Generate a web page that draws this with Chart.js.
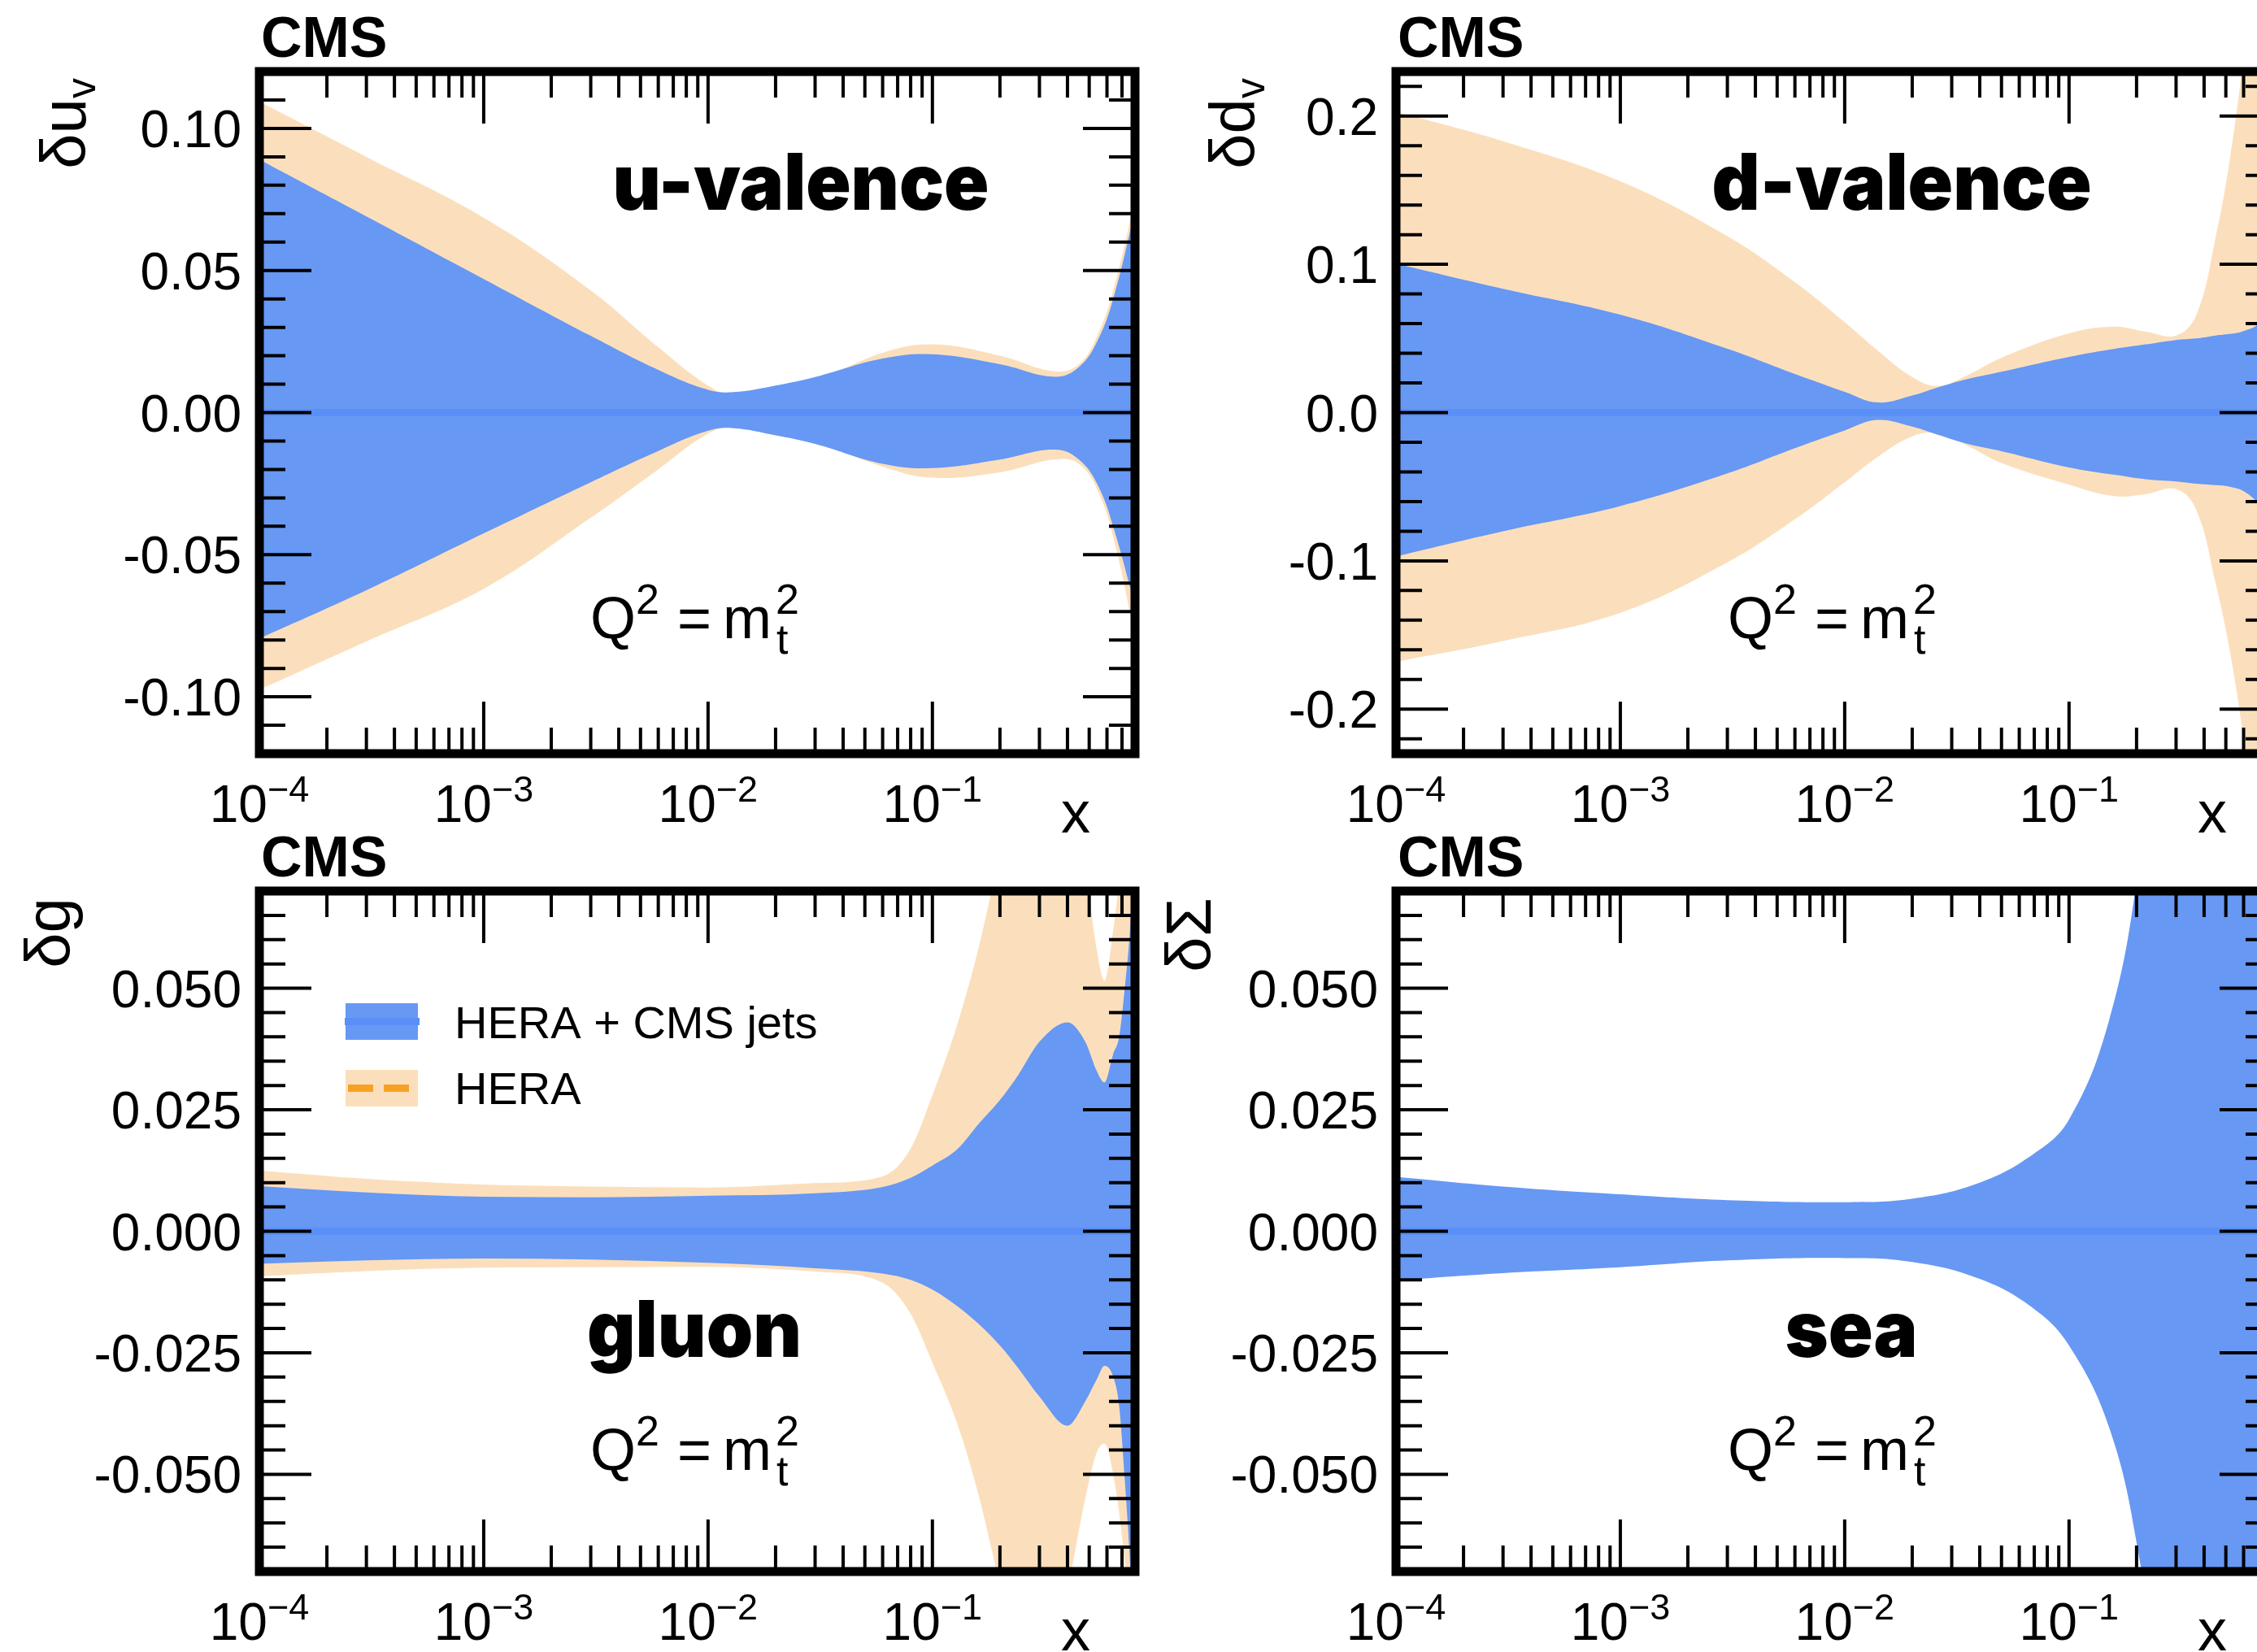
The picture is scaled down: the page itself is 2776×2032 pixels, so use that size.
<!DOCTYPE html>
<html>
<head>
<meta charset="utf-8">
<script src="https://cdn.jsdelivr.net/npm/chart.js@4.4.1/dist/chart.umd.min.js"></script>
<style>
  html, body { margin: 0; padding: 0; background: #fff; overflow: hidden; }
  #page { position: relative; width: 2776px; height: 2032px; overflow: hidden; background: #fff; }
  #page canvas { position: absolute; }
</style>
</head>
<body>
<div id="page">
  <canvas id="cUv"></canvas>
  <canvas id="cDv"></canvas>
  <canvas id="cGl"></canvas>
  <canvas id="cSea"></canvas>
</div>
<script>
// ── X AXIS (shared) ───────────────────────────────────────────
const X_MIN = 1e-4, X_MAX = 0.8;
const xDecades   = [1e-4, 1e-3, 1e-2, 1e-1];
const xDecadeExp = ['−4', '−3', '−2', '−1'];

// ── u-valence ─────────────────────────────────────────────────
const uvX      = [1e-4, 3e-4, 1e-3, 3e-3, 6e-3, 1e-2, 1.3e-2, 2e-2, 3e-2, 6e-2, 0.1, 0.2, 0.35, 0.45, 0.55, 0.65, 0.8];
const uvJetsUp = [0.089, 0.069, 0.047, 0.027, 0.015, 0.0080, 0.0072, 0.0095, 0.0125, 0.019, 0.0205, 0.017, 0.0126, 0.016, 0.026, 0.042, 0.071];
const uvJetsDn = [-0.0795, -0.0625, -0.0425, -0.0245, -0.0135, -0.0064, -0.0055, -0.008, -0.011, -0.018, -0.0195, -0.0165, -0.013, -0.0165, -0.026, -0.042, -0.068];
const uvHeraUp = [0.1094, 0.090, 0.0686, 0.043, 0.023, 0.0095, 0.006, 0.007, 0.011, 0.021, 0.024, 0.020, 0.0145, 0.017, 0.028, 0.045, 0.075];
const uvHeraDn = [-0.0975, -0.0805, -0.062, -0.037, -0.020, -0.0074, -0.005, -0.0065, -0.010, -0.019, -0.0229, -0.021, -0.0165, -0.018, -0.028, -0.046, -0.079];
const uvTicks  = [-0.10, -0.05, 0, 0.05, 0.10];
const uvLabels = ['-0.10', '-0.05', '0.00', '0.05', '0.10'];

// ── d-valence ─────────────────────────────────────────────────
const dvX      = [1e-4, 3e-4, 1e-3, 3e-3, 6e-3, 1e-2, 1.4e-2, 2e-2, 2.6e-2, 3.5e-2, 5e-2, 0.1, 0.16, 0.22, 0.3, 0.37, 0.45, 0.52, 0.6, 0.7, 0.8];
const dvJetsUp = [0.1005, 0.0835, 0.066, 0.043, 0.026, 0.014, 0.0068, 0.0115, 0.017, 0.0225, 0.0275, 0.0375, 0.043, 0.046, 0.049, 0.050, 0.052, 0.053, 0.055, 0.060, 0.075];
const dvJetsDn = [-0.097, -0.080, -0.063, -0.041, -0.024, -0.012, -0.005, -0.0095, -0.015, -0.021, -0.026, -0.037, -0.042, -0.045, -0.0465, -0.048, -0.049, -0.050, -0.053, -0.062, -0.080];
const dvHeraUp = [0.203, 0.183, 0.156, 0.119, 0.088, 0.061, 0.042, 0.024, 0.018, 0.025, 0.037, 0.0534, 0.058, 0.0545, 0.052, 0.066, 0.118, 0.170, 0.240, 0.330, 0.450];
const dvHeraDn = [-0.168, -0.154, -0.135, -0.101, -0.072, -0.047, -0.030, -0.016, -0.014, -0.022, -0.034, -0.0486, -0.0564, -0.055, -0.0516, -0.066, -0.115, -0.160, -0.220, -0.300, -0.400];
const dvTicks  = [-0.2, -0.1, 0, 0.1, 0.2];
const dvLabels = ['-0.2', '-0.1', '0.0', '0.1', '0.2'];

// ── gluon ─────────────────────────────────────────────────────
const glX      = [1e-4, 3e-4, 1e-3, 3e-3, 1e-2, 3e-2, 6e-2, 0.08, 0.1, 0.13, 0.16, 0.2, 0.24, 0.3, 0.4, 0.48, 0.54, 0.585, 0.64, 0.68, 0.72, 0.76, 0.8];
const glJetsUp = [0.0093, 0.0080, 0.0071, 0.0070, 0.0073, 0.0078, 0.0091, 0.011, 0.0135, 0.017, 0.022, 0.027, 0.032, 0.039, 0.043, 0.039, 0.033, 0.0306, 0.0365, 0.040, 0.050, 0.062, 0.080];
const glJetsDn = [-0.0067, -0.0060, -0.0056, -0.0058, -0.0065, -0.0076, -0.0087, -0.010, -0.012, -0.0155, -0.019, -0.0235, -0.028, -0.034, -0.040, -0.035, -0.0305, -0.0277, -0.030, -0.036, -0.051, -0.068, -0.090];
const glHeraUp = [0.0125, 0.0108, 0.0096, 0.0092, 0.0090, 0.0099, 0.0113, 0.017, 0.028, 0.043, 0.058, 0.078, 0.095, 0.105, 0.095, 0.075, 0.058, 0.0515, 0.062, 0.072, 0.082, 0.090, 0.100];
const glHeraDn = [-0.0093, -0.0082, -0.0075, -0.0074, -0.0073, -0.0083, -0.0106, -0.017, -0.027, -0.040, -0.054, -0.073, -0.090, -0.098, -0.074, -0.055, -0.0455, -0.0437, -0.050, -0.058, -0.068, -0.080, -0.090];
const glTicks  = [-0.050, -0.025, 0, 0.025, 0.050];
const glLabels = ['-0.050', '-0.025', '0.000', '0.025', '0.050'];

// ── sea ───────────────────────────────────────────────────────
const seaX      = [1e-4, 3e-4, 1e-3, 3e-3, 1e-2, 2e-2, 4e-2, 0.07, 0.1, 0.15, 0.2, 0.3, 0.5, 0.8];
const seaJetsUp = [0.0112, 0.0092, 0.0076, 0.0064, 0.0060, 0.0067, 0.010, 0.016, 0.023, 0.043, 0.072, 0.14, 0.30, 0.50];
const seaJetsDn = [-0.0101, -0.0086, -0.0074, -0.0060, -0.0055, -0.0063, -0.0098, -0.016, -0.0235, -0.040, -0.064, -0.12, -0.30, -0.50];
const seaTicks  = glTicks;
const seaLabels = glLabels;

// ── STYLE ─────────────────────────────────────────────────────
const SANS  = '"Liberation Sans", Arial, Helvetica, sans-serif';
const HEAVY = 'Inter, Roboto, Lato, sans-serif';
const BLUE = '#6798f3', BLUE_LINE = '#5a8ff8', BEIGE = '#fbdfbc', ORANGE = '#f7a124';

const panels = [
  { id: 'cUv', left: 0, top: 0, h: 1040, padTop: 88, padBottom: 113, smooth: true,
    x: uvX, jetsUp: uvJetsUp, jetsDn: uvJetsDn, heraUp: uvHeraUp, heraDn: uvHeraDn,
    yMin: -0.12, yMax: 0.12, minor: 0.01, ticks: uvTicks, labels: uvLabels,
    title: 'δu', titleSub: 'v', titleX: -214,
    name: 'u-valence', nameX: 666, nameY: 170, nameW: 463, qX: 407, qY: 697 },
  { id: 'cDv', left: 1398, top: 0, h: 1040, padTop: 88, padBottom: 113, smooth: true,
    x: dvX, jetsUp: dvJetsUp, jetsDn: dvJetsDn, heraUp: dvHeraUp, heraDn: dvHeraDn,
    yMin: -0.23, yMax: 0.23, minor: 0.02, ticks: dvTicks, labels: dvLabels,
    title: 'δd', titleSub: 'v', titleX: -174,
    name: 'd-valence', nameX: 622, nameY: 170, nameW: 467, qX: 408, qY: 697 },
  { id: 'cGl', left: 0, top: 1010, h: 1022, padTop: 86, padBottom: 99, smooth: false,
    x: glX, jetsUp: glJetsUp, jetsDn: glJetsDn, heraUp: glHeraUp, heraDn: glHeraDn,
    yMin: -0.07, yMax: 0.07, minor: 0.005, ticks: glTicks, labels: glLabels,
    title: 'δg', titleSub: '', titleX: -233,
    name: 'gluon', nameX: 535, nameY: 573, nameW: 264, qX: 407, qY: 712, legend: true },
  { id: 'cSea', left: 1398, top: 1010, h: 1022, padTop: 86, padBottom: 99, smooth: true,
    x: seaX, jetsUp: seaJetsUp, jetsDn: seaJetsDn,
    yMin: -0.07, yMax: 0.07, minor: 0.005, ticks: seaTicks, labels: seaLabels,
    title: 'δΣ', titleSub: '', titleX: -228,
    name: 'sea', nameX: 560, nameY: 573, nameW: 163, qX: 408, qY: 712 },
];

function band(xs, ys) { return xs.map((x, i) => ({ x, y: ys[i] })); }

// text squeezed/stretched to a given width, centred on cx
function fitText(ctx, str, cx, y, w) {
  const m = ctx.measureText(str).width;
  ctx.save();
  ctx.translate(cx, y);
  ctx.scale(w / m, 1);
  ctx.textAlign = 'center';
  ctx.fillText(str, 0, 0);
  ctx.restore();
}

// ── ROOT-like frame, ticks and texts ──────────────────────────
function makeOverlay(p) {
  return {
    id: 'overlay',
    afterDatasetsDraw(chart) {
      const { ctx, chartArea: a, scales: { x: xs, y: ys } } = chart;
      const L = a.left, R = a.right, T = a.top, B = a.bottom;
      ctx.save();
      ctx.fillStyle = '#000';
      ctx.strokeStyle = '#000';

      // ticks, inward on all four sides
      ctx.lineWidth = 4;
      ctx.beginPath();
      xDecades.forEach(d => {
        for (let m = 1; m <= 9; m++) {
          const v = d * m;
          if (v <= X_MIN * 1.0001 || v >= X_MAX) continue;
          const px = xs.getPixelForValue(v);
          const len = m === 1 ? 64 : 32;
          ctx.moveTo(px, B); ctx.lineTo(px, B - len);
          ctx.moveTo(px, T); ctx.lineTo(px, T + len);
        }
      });
      const n0 = Math.ceil(p.yMin / p.minor - 1e-6), n1 = Math.floor(p.yMax / p.minor + 1e-6);
      for (let n = n0; n <= n1; n++) {
        const v = n * p.minor;
        const isMajor = p.ticks.some(t => Math.abs(t - v) < p.minor / 10);
        const py = ys.getPixelForValue(v);
        const len = isMajor ? 64 : 32;
        ctx.moveTo(L, py); ctx.lineTo(L + len, py);
        ctx.moveTo(R, py); ctx.lineTo(R - len, py);
      }
      ctx.stroke();

      // frame
      ctx.lineWidth = 11;
      ctx.lineJoin = 'miter';
      ctx.strokeRect(L, T, R - L, B - T);

      // y tick labels
      ctx.font = `64px ${SANS}`;
      ctx.textAlign = 'right';
      ctx.textBaseline = 'alphabetic';
      p.ticks.forEach((t, i) => {
        ctx.fillText(p.labels[i], L - 22, ys.getPixelForValue(t) + 23);
      });

      // x tick labels 10^n
      xDecades.forEach((d, i) => {
        ctx.font = `64px ${SANS}`;
        const wb = ctx.measureText('10').width;
        ctx.font = `45px ${SANS}`;
        const we = ctx.measureText(xDecadeExp[i]).width;
        const x0 = xs.getPixelForValue(d) - (wb + we) / 2;
        ctx.textAlign = 'left';
        ctx.font = `64px ${SANS}`;
        ctx.fillText('10', x0, B + 84);
        ctx.font = `45px ${SANS}`;
        ctx.fillText(xDecadeExp[i], x0 + wb, B + 59);
      });

      // x axis title
      ctx.font = `72px ${SANS}`;
      ctx.textAlign = 'center';
      ctx.fillText('x', L + 1004, B + 97);

      // y axis title, rotated
      ctx.save();
      ctx.translate(L + p.titleX, T + 8);
      ctx.rotate(-Math.PI / 2);
      ctx.font = `78px ${SANS}`;
      const wt = ctx.measureText(p.title).width;
      ctx.font = `50px ${SANS}`;
      const ws = p.titleSub ? ctx.measureText(p.titleSub).width : 0;
      ctx.textAlign = 'left';
      ctx.font = `78px ${SANS}`;
      ctx.fillText(p.title, -(wt + ws), 0);
      if (p.titleSub) {
        ctx.font = `50px ${SANS}`;
        ctx.fillText(p.titleSub, -ws, 12);
      }
      ctx.restore();

      // CMS
      ctx.font = `bold 70px ${SANS}`;
      ctx.textAlign = 'left';
      ctx.fillText('CMS', L + 2, T - 18);

      // panel name
      ctx.font = `900 96px ${HEAVY}`;
      fitText(ctx, p.name, L + p.nameX, T + p.nameY, p.nameW);

      // Q^2 = m_t^2
      const qx = L + p.qX, qy = T + p.qY;
      ctx.textAlign = 'left';
      ctx.font = `72px ${SANS}`;
      ctx.fillText('Q', qx, qy);
      ctx.fillText('=', qx + 107, qy);
      ctx.fillText('m', qx + 163, qy);
      ctx.font = `52px ${SANS}`;
      ctx.fillText('2', qx + 56, qy - 30);
      ctx.fillText('2', qx + 228, qy - 30);
      ctx.fillText('t', qx + 229, qy + 19);

      // legend
      if (p.legend) {
        const bx = L + 106, bw = 89, bh = 45;
        ctx.fillStyle = BLUE;
        ctx.fillRect(bx, T + 138, bw, bh);
        ctx.strokeStyle = BLUE_LINE;
        ctx.lineWidth = 9;
        ctx.beginPath();
        ctx.moveTo(bx - 1, T + 160.5); ctx.lineTo(bx + bw + 2, T + 160.5);
        ctx.stroke();
        ctx.fillStyle = BEIGE;
        ctx.fillRect(bx, T + 220, bw, bh);
        ctx.strokeStyle = ORANGE;
        ctx.setLineDash([31, 13]);
        ctx.beginPath();
        ctx.moveTo(bx + 3, T + 242.5); ctx.lineTo(bx + 84, T + 242.5);
        ctx.stroke();
        ctx.setLineDash([]);
        ctx.fillStyle = '#000';
        ctx.font = `56px ${SANS}`;
        ctx.fillText('HERA + CMS jets', L + 240, T + 181);
        ctx.fillText('HERA', L + 240, T + 262);
      }
      ctx.restore();
    }
  };
}

function makeChart(p) {
  const cv = document.getElementById(p.id);
  cv.width = 1420;
  cv.height = p.h;
  cv.style.left = p.left + 'px';
  cv.style.top = p.top + 'px';

  const flat = { borderColor: 'transparent', borderWidth: 0 };
  const datasets = [
    { data: [{ x: X_MIN, y: 0 }, { x: X_MAX, y: 0 }], borderColor: BLUE_LINE, borderWidth: 9, fill: false, order: 0 },
    { data: band(p.x, p.jetsUp), fill: '+1', backgroundColor: BLUE, ...flat, order: 1 },
    { data: band(p.x, p.jetsDn), fill: false, ...flat, order: 1 },
  ];
  if (p.heraUp) {
    datasets.push(
      { data: band(p.x, p.heraUp), fill: '+1', backgroundColor: BEIGE, ...flat, order: 2 },
      { data: band(p.x, p.heraDn), fill: false, ...flat, order: 2 }
    );
  }

  return new Chart(cv, {
    type: 'line',
    data: { datasets },
    options: {
      responsive: false,
      animation: false,
      devicePixelRatio: 1,
      layout: { padding: { left: 319, right: 24, top: p.padTop, bottom: p.padBottom } },
      elements: {
        point: { radius: 0, hoverRadius: 0 },
        line: p.smooth ? { cubicInterpolationMode: 'default', tension: 0.4 }
                       : { cubicInterpolationMode: 'monotone' },
      },
      scales: {
        x: { type: 'logarithmic', min: X_MIN, max: X_MAX, display: false },
        y: { type: 'linear', min: p.yMin, max: p.yMax, display: false },
      },
      plugins: { legend: { display: false }, tooltip: { enabled: false } },
    },
    plugins: [makeOverlay(p)],
  });
}

panels.forEach(makeChart);
</script>
</body>
</html>
